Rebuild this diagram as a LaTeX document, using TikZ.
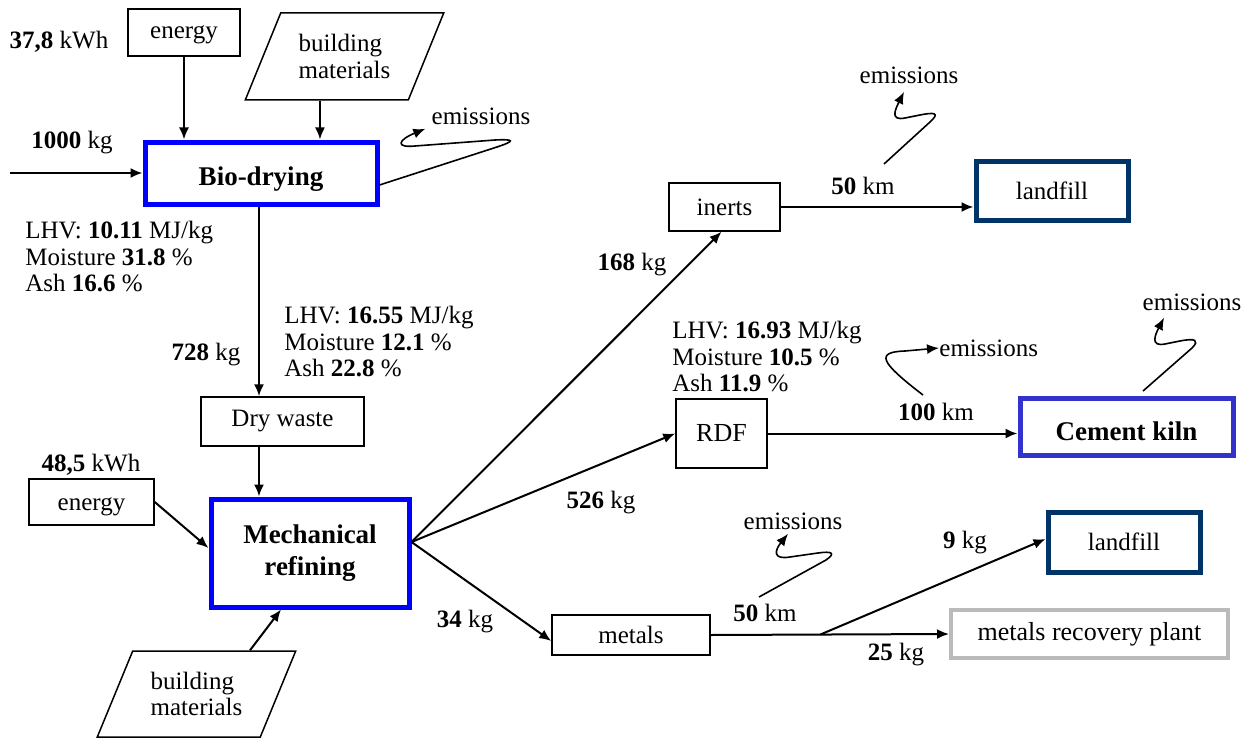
\documentclass[tikz,border=0pt]{standalone}
\usepackage{fontspec}
\IfFontExistsTF{LiberationSerif-Regular.ttf}
  {\setmainfont{LiberationSerif}[Extension=.ttf,UprightFont=*-Regular,BoldFont=*-Bold,
    ItalicFont=*-Italic,BoldItalicFont=*-BoldItalic]}
  {\IfFontExistsTF{TeX Gyre Termes}{\setmainfont{TeX Gyre Termes}}{}}
\usetikzlibrary{arrows.meta,shapes.geometric}
\definecolor{navy}{RGB}{0,51,102}
\definecolor{kiln}{RGB}{51,51,204}

\begin{document}
\begin{tikzpicture}[x=0.5pt,y=-0.5pt,>={Latex[length=6pt,width=5pt]},
  font=\rmfamily\fontsize{12.5}{13.25}\selectfont,
  bx/.style={draw,line width=0.75pt,inner sep=0pt},
  proc/.style={draw=blue,line width=2.5pt,inner sep=0pt,align=center,
    font=\rmfamily\fontsize{13.5}{16}\selectfont\bfseries},
  sink/.style={draw=navy,line width=2.5pt,inner sep=0pt},
  para/.style={trapezium,trapezium left angle=60,trapezium right angle=120,
    trapezium stretches=true,draw,line width=0.75pt,inner sep=0pt,align=left},
  flow/.style={->,line width=1pt},
  gas/.style={->,line width=0.8pt},
  txt/.style={inner sep=0pt,align=left}]
  \useasboundingbox (0,0) rectangle (1252,738);

  \node[proc,minimum width=116pt,minimum height=31pt,text height=15.5pt] (bio) at (261,173) {Bio-drying};
  \node[bx,minimum width=56pt,minimum height=23.5pt,text height=8.3pt] (enA) at (184,32.5) {energy};
  \node[para,minimum width=99.5pt,minimum height=43.5pt] (bmA) at (344.5,56.5) {building\\materials};
  \node[bx,minimum width=81.5pt,minimum height=24.5pt] (dw) at (282.5,421.5) {Dry waste};
  \node[proc,minimum width=99pt,minimum height=54pt] (mr) at (310,553) {Mechanical\\refining};
  \node[bx,minimum width=62.5pt,minimum height=23pt,text height=11.5pt] (enB) at (91.5,502) {energy};
  \node[para,minimum width=99.5pt,minimum height=43pt] (bmB) at (196.5,694) {building\\materials};
  \node[bx,minimum width=55.5pt,minimum height=24pt] (in) at (724.5,207) {inerts};
  \node[sink,minimum width=76pt,minimum height=29.5pt] (lf1) at (1052,190.5) {landfill};
  \node[bx,minimum width=45.5pt,minimum height=34.5pt,font=\rmfamily\fontsize{13}{16}\selectfont] (rdf) at (721.5,433.5) {RDF};
  \node[proc,draw=kiln,minimum width=106.5pt,minimum height=28.5pt,text height=14pt] (ck) at (1126.5,426.5) {Cement kiln};
  \node[bx,minimum width=79pt,minimum height=20pt] (me) at (631,635) {metals};
  \node[sink,minimum width=76pt,minimum height=30pt] (lf2) at (1124,542) {landfill};
  \node[bx,draw=black!27,line width=2pt,minimum width=138.5pt,minimum height=24pt,
    font=\rmfamily\fontsize{13}{16}\selectfont] (mrp) at (1089.5,634) {metals recovery plant};

  \node[txt] (kwhA) at (59,42) {\textbf{37,8} kWh};
  \node[txt] (kgIn) at (72,143) {\textbf{1000} kg};
  \node[txt,anchor=west] (q1) at (25,257) {LHV: \textbf{10.11} MJ/kg\\Moisture \textbf{31.8} \%\\Ash \textbf{16.6} \%};
  \node[txt] (kg728) at (206,355) {\textbf{728} kg};
  \node[txt,anchor=west] (q2) at (284,342) {LHV: \textbf{16.55} MJ/kg\\Moisture \textbf{12.1} \%\\Ash \textbf{22.8} \%};
  \node[txt] (kwhB) at (91,465) {\textbf{48,5} kWh};
  \node[txt] (kg168) at (632,265) {\textbf{168} kg};
  \node[txt] (km50a) at (863,186) {\textbf{50} km};
  \node[txt,anchor=west] (q3) at (672,357) {LHV: \textbf{16.93} MJ/kg\\Moisture \textbf{10.5} \%\\Ash \textbf{11.9} \%};
  \node[txt] (kg526) at (601,503) {\textbf{526} kg};
  \node[txt] (km100) at (936,412) {\textbf{100} km};
  \node[txt] (kg34) at (465,622) {\textbf{34} kg};
  \node[txt] (km50b) at (765,613) {\textbf{50} km};
  \node[txt] (kg9) at (965,543) {\textbf{9} kg};
  \node[txt] (kg25) at (896,655) {\textbf{25} kg};

  \node[txt] (em1) at (481,116) {emissions};
  \node[txt] (em2) at (909,75) {emissions};
  \node[txt,anchor=west] (em3) at (939,348) {emissions};
  \node[txt] (em4) at (1192,302) {emissions};
  \node[txt] (em5) at (793,521) {emissions};

  \coordinate (src) at (10,173);
  \coordinate (hub) at ([yshift=5.5pt]mr.east);
  \coordinate (e2) at (884,164);
  \coordinate (e3) at (923,395);
  \coordinate (e4) at (1143,391);
  \coordinate (e5) at (759,597);
  \path (me.east) -- (mrp.west) coordinate[pos=0.46] (br);

  \draw[flow] (src) -- (bio.west);
  \draw[flow] (enA.south) -- (enA.south |- bio.north);
  \draw[flow] ([xshift=-3.25pt]bmA.bottom side) -- ([xshift=-3.25pt]bmA.bottom side |- bio.north);
  \draw[flow] ([xshift=-1pt]bio.south) -- ([xshift=-1pt]bio.south |- dw.north);
  \draw[flow] ([xshift=-11.75pt]dw.south) -- ([xshift=-11.75pt]dw.south |- mr.north);
  \draw[flow] (enB.east) -- ([yshift=2.5pt]mr.west);
  \draw[flow] ([xshift=17.75pt]bmB.top side) -- ([xshift=-14.5pt]mr.south);
  \draw[flow] (hub) -- ([xshift=-1.5pt]in.south);
  \draw[flow] (hub) -- (rdf.west);
  \draw[flow] (hub) -- ([yshift=-3pt]me.west);
  \draw[flow] (in.east) -- (in.east -| lf1.west);
  \draw[flow] (rdf.east) -- (rdf.east -| ck.west);
  \draw[flow] (me.east) -- (mrp.west);
  \draw[flow] (br) -- ([yshift=1.5pt]lf2.west);

  \draw[gas] ([yshift=-6pt]bio.east) -- (497,147) .. controls (515,141) and (515,139) .. (495,140)
    -- (415,146) .. controls (395,148) and (398,140) .. ([shift={(-3pt,-2pt)}]em1.south west);
  \draw[gas] (e2) -- (930,122) .. controls (940,113) and (935,112) .. (920,115)
    -- (905,118) .. controls (890,121) and (895,110) .. ([xshift=-2.5pt,yshift=-4pt]em2.south);
  \draw[gas] (e3) .. controls (880,362) and (875,352) .. (905,351) -- (em3.west);
  \draw[gas] (e4) -- (1192,348) .. controls (1200,340) and (1195,338) .. (1180,341)
    -- (1165,344) .. controls (1150,347) and (1155,335) .. ([xshift=-14pt,yshift=-3.5pt]em4.south);
  \draw[gas] (e5) -- (826,560) .. controls (836,553) and (832,551) .. (818,553)
    -- (790,557) .. controls (772,560) and (775,550) .. ([xshift=-2.5pt,yshift=-2pt]em5.south);
\end{tikzpicture}
\end{document}
